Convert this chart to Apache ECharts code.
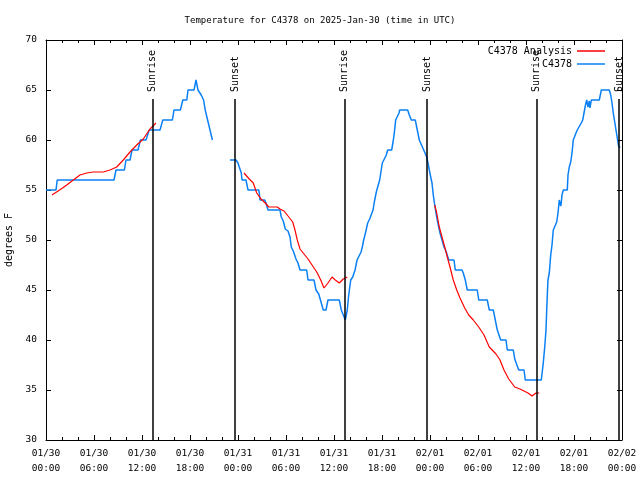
<!DOCTYPE html>
<html>
<head>
<meta charset="utf-8">
<script src="https://cdn.jsdelivr.net/npm/echarts@6/dist/echarts.min.js"></script>
<style>html,body{margin:0;padding:0;background:#fff}#c{width:640px;height:480px}</style>
</head>
<body>
<div id="c"></div>
<script>
// ---- data (hours since 2025-01-30 00:00 UTC) ----
var xTickLabels = ['01/30\n00:00','01/30\n06:00','01/30\n12:00','01/30\n18:00','01/31\n00:00','01/31\n06:00','01/31\n12:00','01/31\n18:00','02/01\n00:00','02/01\n06:00','02/01\n12:00','02/01\n18:00','02/02\n00:00'];

var obsHours = [0,1.25,1.4,8.5,8.75,9.8,10.0,10.5,10.75,11.5,11.8,12.5,12.9,14.25,14.6,15.8,16.0,16.8,17.1,17.6,17.75,18.5,18.75,19.0,19.4,19.7,19.9,20.2,20.5,20.8,
  21.9,
  23.0,23.75,24.0,24.16,24.41,24.5,25.0,25.25,26.59,26.66,26.75,27.34,27.5,27.75,28.66,29.25,29.41,29.66,29.91,30.25,30.5,30.66,30.91,31.25,31.5,31.75,32.59,32.75,33.5,33.75,34.09,34.34,34.66,35.0,35.25,36.66,36.91,37.16,37.41,37.66,37.84,38.09,38.34,38.63,38.88,39.13,39.38,39.54,39.71,39.96,40.21,40.46,40.71,40.88,41.04,41.29,41.46,41.71,41.88,42.04,42.29,42.54,42.71,43.21,43.38,43.54,43.71,43.96,44.13,44.21,45.21,45.41,45.66,46.16,46.41,46.66,46.91,47.16,47.41,47.59,47.75,47.91,48.09,48.25,48.41,48.59,48.75,48.91,49.09,49.25,49.5,49.75,50.0,50.34,51.0,51.16,52.0,52.16,52.41,52.66,53.91,54.09,55.16,55.41,55.91,56.16,56.41,56.84,57.5,57.66,58.41,58.59,58.84,59.09,59.75,59.91,61.91,62.16,62.34,62.5,62.59,62.69,62.75,62.91,63.09,63.25,63.41,63.66,63.84,64.0,64.16,64.34,64.41,64.5,64.66,65.16,65.25,65.41,65.59,65.75,65.91,66.09,66.25,66.41,66.66,66.91,67.09,67.25,67.41,67.59,67.75,67.91,68.0,68.16,69.16,69.34,69.41,70.41,70.59,70.75,70.91,71.09,71.25,71.41,71.5,71.59,71.8];
var obsTemps = [55,55,56,56,57,57,58,58,59,59,60,60,61,61,62,62,63,63,64,64,65,65,66,65,64.5,64,63,62,61,60,
  null,
  58,58,57.7,57.3,56.7,56,56,55,55,54.7,54,54,53.7,53,53,53,52.3,51.9,51.1,50.9,50.3,49.3,48.9,48.1,47.7,47,47,46,46,45,44.6,43.9,43,43,44,44,43,42.9,42,43,44.5,46,46.3,47,48,48.1,48.8,49.3,50,50.8,51.7,52.1,52.3,53,53.8,54.8,55.3,56,56.1,57.7,58.1,58.5,59,59,59.8,60.7,62,62.2,62.7,63,63,62.5,62,62,61,60,60,59.1,59,58.3,57.7,57,56.3,55.7,54.5,53.5,52.7,52,51.3,50.7,50,49.3,48.9,48,48,47,47,46.7,46,45,45,44,44,43,43,42,41,40,40,39,39,38.1,37.9,37,37,36,36,37.7,39.3,41,43,45,46,46.7,48.5,49.5,51,51.1,51.8,52.7,54,53.4,53.7,54.5,55,55,56.5,57.3,57.8,58.7,60,60.2,60.7,61,61.2,61.7,62,62.7,63.4,64,63.3,63.9,63.2,64,64,64.7,65,65,64.5,63.7,62.7,61.8,61,60.2,60,59.3,59.3];

var anaHours = [0.75,1.84,2.59,3.41,4.25,5.09,5.91,7.16,8.0,8.84,9.66,10.5,11.34,12.16,13.0,13.75,
  20.0,
  24.75,25.41,25.91,26.34,26.91,27.41,27.84,28.91,29.25,29.75,30.25,30.84,31.09,31.41,31.75,32.25,32.75,33.25,33.84,34.34,34.75,35.25,35.75,36.16,36.66,37.16,37.66,
  43.0,
  48.59,48.84,49.16,49.5,49.84,50.16,50.5,50.91,51.34,51.75,52.34,52.84,53.41,54.09,54.75,55.41,56.25,56.75,57.25,57.84,58.59,59.25,59.75,60.25,60.75,61.25,61.66];
var anaTemps = [54.5,55.07,55.5,56,56.5,56.7,56.8,56.8,57,57.3,58,58.8,59.5,60.1,61.1,61.7,
  null,
  56.7,56.1,55.7,54.7,54.07,53.7,53.3,53.3,53.1,52.9,52.4,51.8,51.1,50,49.1,48.6,48.1,47.5,46.8,46,45.2,45.7,46.3,46,45.7,46.1,46.3,
  null,
  53.5,52.7,51.3,50.3,49.3,48.3,47.3,46,45,44.2,43.2,42.5,42,41.3,40.5,39.3,38.6,38,37,36.1,35.3,35.1,34.9,34.7,34.4,34.7,34.7];

var sunHours = [13.3, 23.65, 37.3, 47.65, 61.3, 71.65];
var sunNames = ['Sunrise','Sunset','Sunrise','Sunset','Sunrise','Sunset'];
var sunLineTop = 64.1;

// ---- build ----
function zip(h, t){ return h.map(function(x,i){ return [x, t[i] === null ? '-' : t[i]]; }); }
var FONT = 'DejaVu Sans Mono';
var chart = echarts.init(document.getElementById('c'), null, {renderer:'canvas'});

var axisCommon = {
  type:'value', min:0, max:72, interval:6,
  axisLine:{show:true, onZero:false, lineStyle:{color:'#000', width:1}},
  axisTick:{show:true, inside:true, length:5, lineStyle:{color:'#000'}},
  minorTick:{show:true, splitNumber:3, length:3, lineStyle:{color:'#000'}},
  splitLine:{show:false}
};
var yCommon = {
  type:'value', min:30, max:70, interval:5,
  axisLine:{show:true, onZero:false, lineStyle:{color:'#000', width:1}},
  axisTick:{show:true, inside:true, length:5, lineStyle:{color:'#000'}},
  splitLine:{show:false}
};

chart.setOption({
  animation:false,
  backgroundColor:'#fff',
  title:{text:'Temperature for C4378 on 2025-Jan-30 (time in UTC)', left:'center', top:11,
    textStyle:{fontFamily:FONT, fontSize:9, fontWeight:'normal', color:'#000'}},
  grid:{left:46, right:18, top:40, bottom:40, containLabel:false, outerBoundsMode:'none'},
  legend:{
    data:['C4378 Analysis','C4378'], orient:'vertical', right:30, top:41, align:'right',
    itemWidth:28, itemHeight:1.5, itemGap:3, icon:'rect',
    formatter:function(n){ return '{a|'+n+'}'; },
    textStyle:{fontFamily:FONT, fontSize:10, color:'#000', rich:{a:{width:86, align:'right', fontFamily:FONT, fontSize:10, color:'#000'}}}
  },
  xAxis:[
    Object.assign({}, axisCommon, {position:'bottom',
      axisLabel:{show:true, margin:6, color:'#000', fontFamily:FONT, fontSize:9.5, lineHeight:15,
        formatter:function(v){ return xTickLabels[Math.round(v/6)] || ''; }}}),
    Object.assign({}, axisCommon, {position:'top', axisLabel:{show:false}})
  ],
  yAxis:[
    Object.assign({}, yCommon, {position:'left', name:'degrees F', nameLocation:'middle', nameGap:31, nameRotate:90,
      nameTextStyle:{fontFamily:FONT, fontSize:10, color:'#000'},
      axisLabel:{show:true, margin:9, color:'#000', fontFamily:FONT, fontSize:9.5}}),
    Object.assign({}, yCommon, {position:'right', axisLabel:{show:false}})
  ],
  series:[
    {name:'C4378 Analysis', type:'line', data:zip(anaHours, anaTemps), showSymbol:false, connectNulls:false,
      lineStyle:{color:'#ff0000', width:1.2}, itemStyle:{color:'#ff0000'}, z:4},
    {name:'C4378', type:'line', data:zip(obsHours, obsTemps), showSymbol:false, connectNulls:false,
      lineStyle:{color:'#0a80f5', width:1.5}, itemStyle:{color:'#0a80f5'}, z:3},
    {name:'sun', type:'scatter', symbolSize:0, silent:true,
      data:sunHours.map(function(h,i){ return {name:sunNames[i], value:[h, sunLineTop]}; }),
      label:{show:true, formatter:'{b}', position:'top', distance:7, rotate:90, align:'left', verticalAlign:'middle',
        fontFamily:FONT, fontSize:10, color:'#000', opacity:1},
      markLine:{silent:true, symbol:['none','none'], label:{show:false}, animation:false,
        lineStyle:{color:'#000', width:1.5, type:'solid', opacity:1},
        data:sunHours.map(function(h){ return [{coord:[h, sunLineTop]},{coord:[h, 30]}]; })},
      z:5}
  ]
});
</script>
</body>
</html>
